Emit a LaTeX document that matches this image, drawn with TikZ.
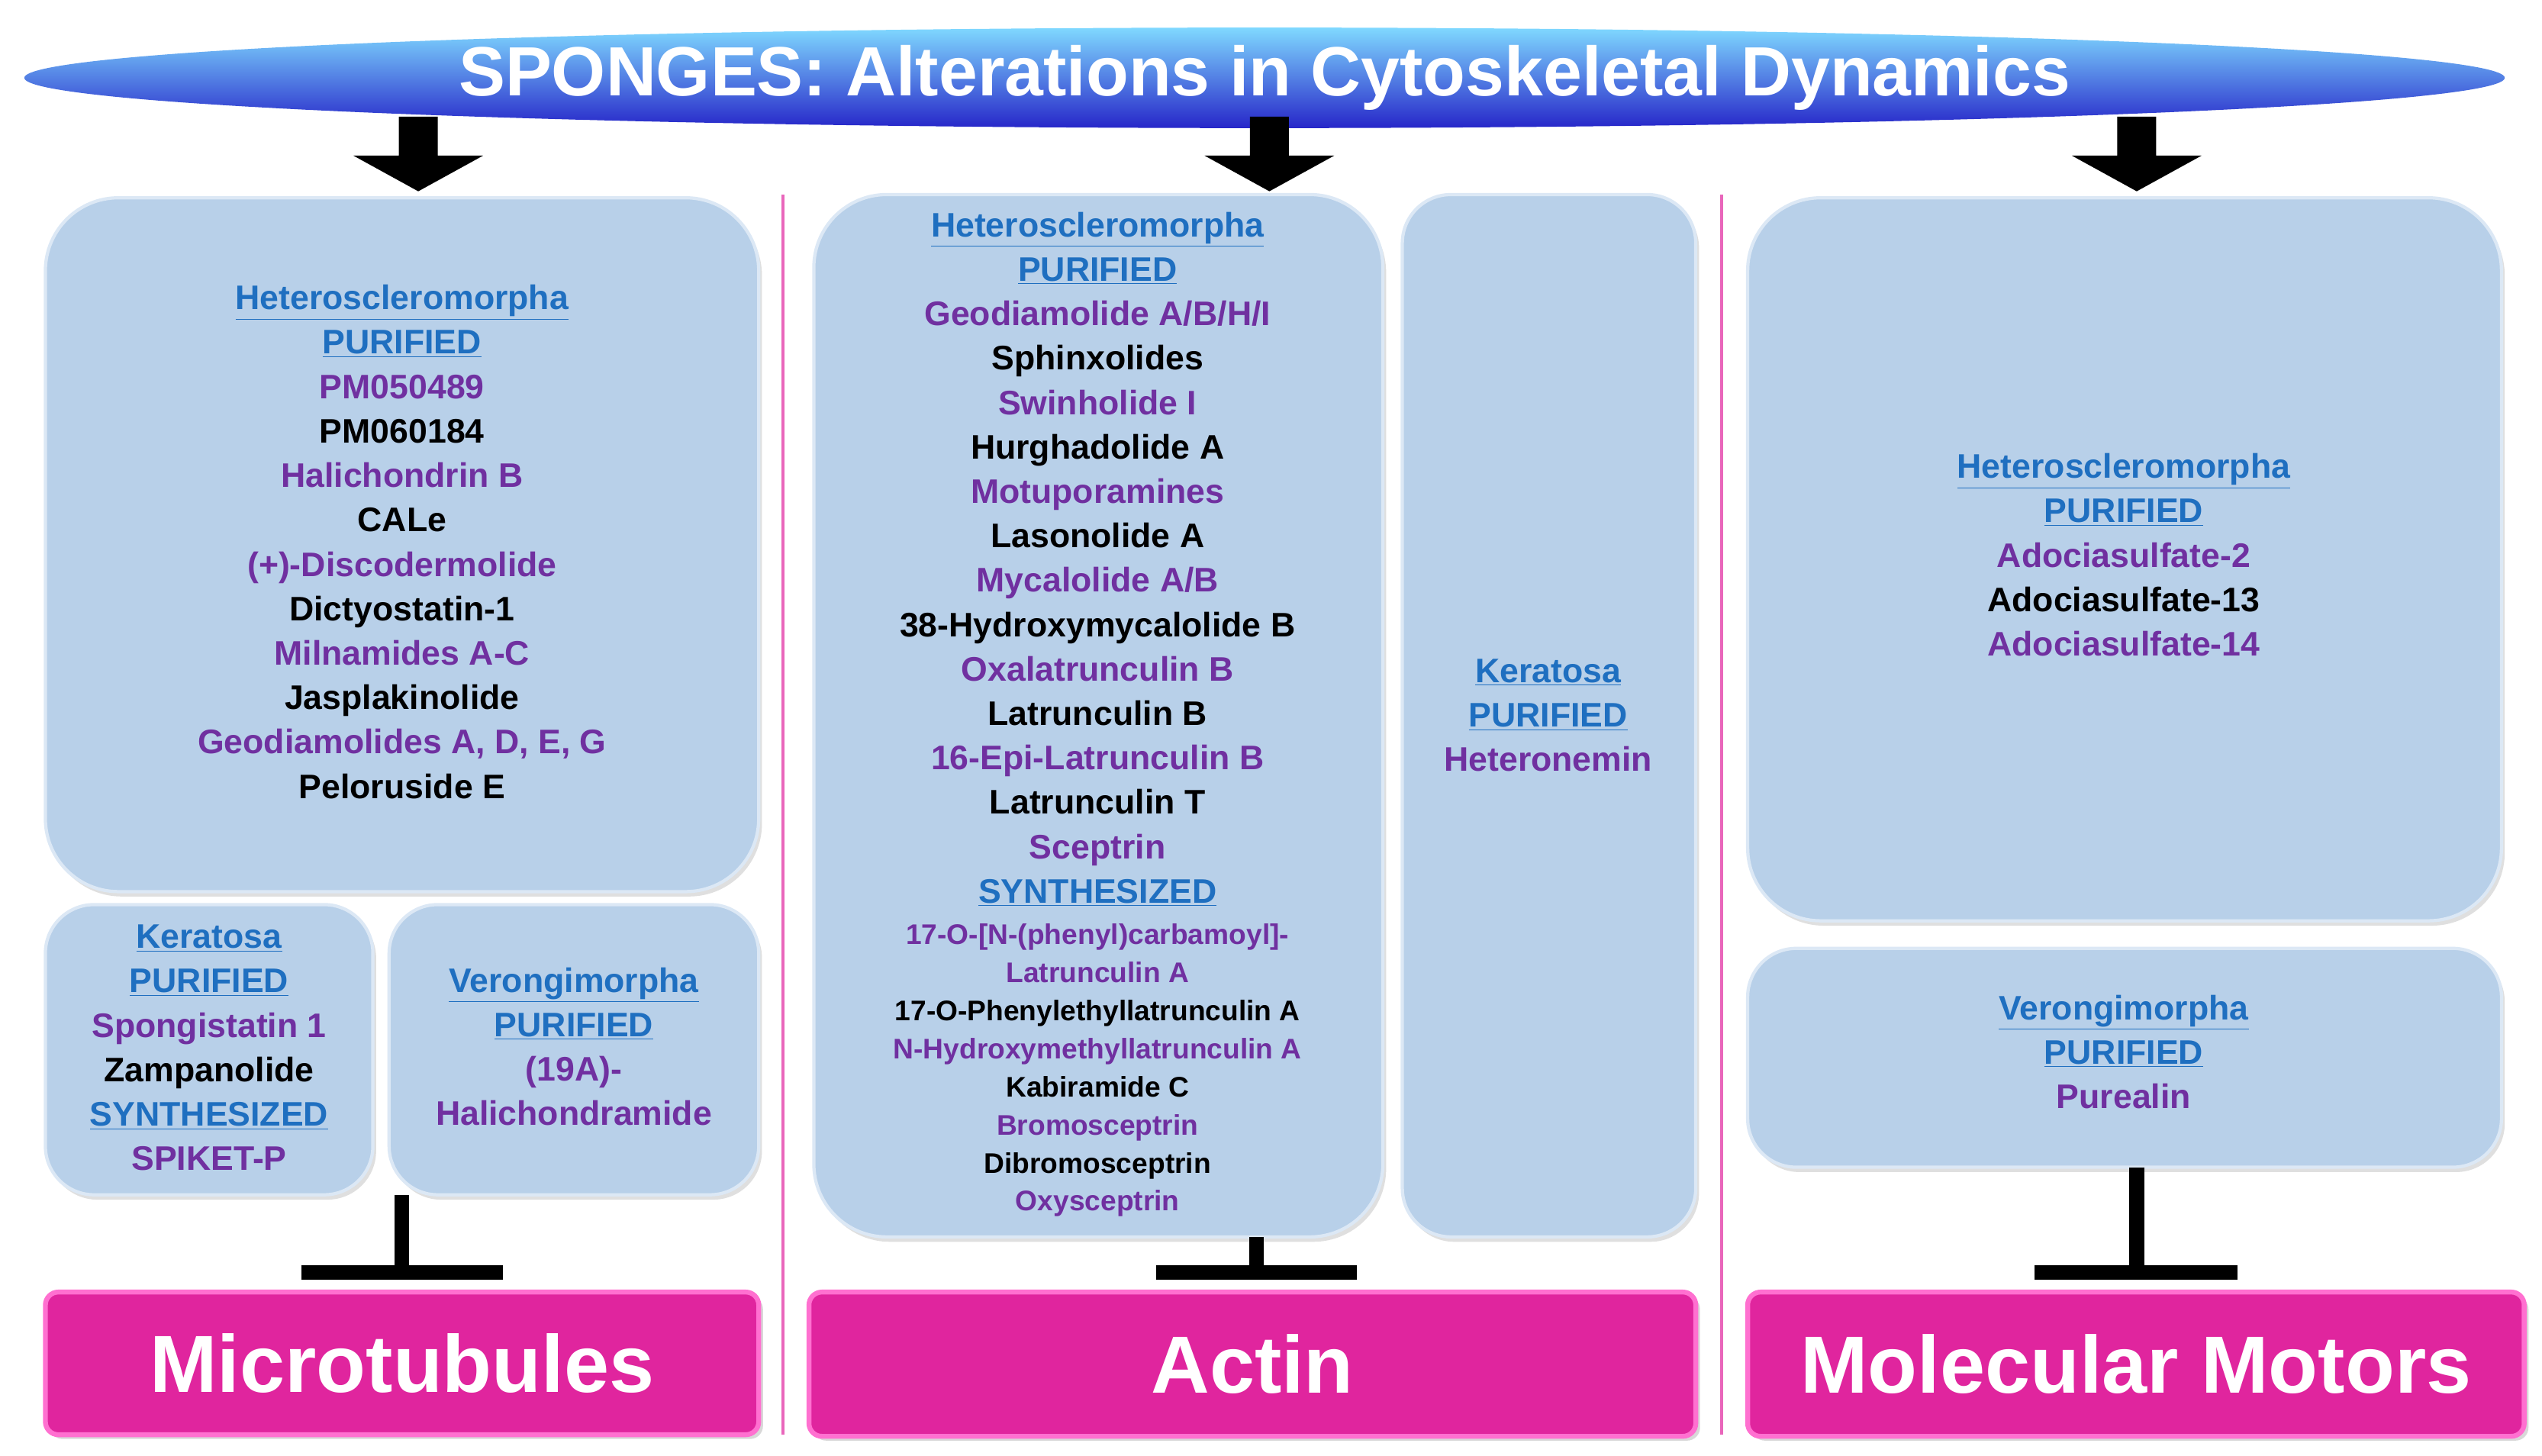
\documentclass[tikz,border=0pt]{standalone}
\usepackage{fontspec}
\setmainfont{Liberation Sans}
\usetikzlibrary{shadows,shapes.geometric}
\definecolor{lk}{HTML}{1F6FC0}
\definecolor{pu}{HTML}{7030A0}
\definecolor{bx}{HTML}{B8D0E9}
\definecolor{bxd}{HTML}{DCE8F5}
\definecolor{mg}{HTML}{E0259E}
\definecolor{mgb}{HTML}{FF70D0}
\begin{document}
\begin{tikzpicture}[x=1pt,y=-1pt,
 box/.style={draw=bxd,line width=2pt,fill=bx,rounded corners=45pt,drop shadow={opacity=0.25,shadow xshift=2pt,shadow yshift=-3pt}},
 sbox/.style={box,rounded corners=30pt},
 mbox/.style={draw=mgb,line width=3pt,fill=mg,rounded corners=8pt,drop shadow={opacity=0.3}},
 mt/.style={font=\fontsize{50}{54}\selectfont\bfseries,text=white},
 base/.style={inner sep=0,text height=15pt,text depth=5pt},
 L/.style={base,font=\fontsize{21}{23}\selectfont\bfseries,text=lk},
 P/.style={base,font=\fontsize{21}{23}\selectfont\bfseries,text=pu},
 K/.style={base,font=\fontsize{21}{23}\selectfont\bfseries,text=black},
 Ps/.style={P,font=\fontsize{17.5}{19}\selectfont\bfseries,text height=13pt,text depth=4pt},
 Ks/.style={K,font=\fontsize{17.5}{19}\selectfont\bfseries,text height=13pt,text depth=4pt},
 inh/.style={line width=9pt,draw=black}]
\useasboundingbox (0,0) rectangle (1568,898);
\fill[white] (0,0) rectangle (1568,898);
% title
\node[draw=none,ellipse,minimum width=1530,minimum height=62,top color=blue!30!cyan!50,bottom color=blue!75!black!85,inner sep=0,font=\fontsize{43}{46}\selectfont\bfseries,text=white] (title) at (780,48) {SPONGES: Alterations in Cytoskeletal Dynamics};
% arrows
\foreach \n/\x in {a1/258,a2/783,a3/1318}{
 \fill (\x-12,72) -- (\x+12,72) -- (\x+12,96) -- (\x+40,96) -- (\x,118) -- (\x-40,96) -- (\x-12,96) -- cycle;
 \coordinate (\n) at (\x,118);}
% separators
\draw[line width=2pt,draw=mg!70] (483,120) -- (483,885);
\draw[line width=2pt,draw=mg!70] (1062,120) -- (1062,885);
% boxes
\node[box,minimum width=440,minimum height=428,inner sep=0] (b1) at (248,336) {};
\node[sbox,minimum width=202,minimum height=179,inner sep=0] (b2) at (129,647.5) {};
\node[sbox,minimum width=228,minimum height=179,inner sep=0] (b3) at (354,647.5) {};
\node[box,minimum width=351,minimum height=643,inner sep=0] (b4) at (677.5,441.5) {};
\node[sbox,minimum width=181,minimum height=643,inner sep=0] (b5) at (955.5,441.5) {};
\node[box,minimum width=465,minimum height=446,inner sep=0] (b6) at (1310.5,345) {};
\node[sbox,minimum width=465,minimum height=135,inner sep=0] (b7) at (1310.5,652.5) {};
% bottom
\node[mbox,minimum width=440,minimum height=88,mt] (m1) at (248,841) {Microtubules};
\node[mbox,minimum width=547,minimum height=89,mt] (m2) at (772.5,841.5) {Actin};
\node[mbox,minimum width=479,minimum height=89,mt] (m3) at (1317.5,841.5) {Molecular Motors};
% inhibition
\coordinate (i1) at (248,785); \coordinate (i2) at (775,785); \coordinate (i3) at (1318,785);
\draw[inh] (248,737) -- (i1); \draw[inh] (186,785) -- (310,785);
\draw[inh] (775,763) -- (i2); \draw[inh] (713,785) -- (837,785);
\draw[inh] (1318,720) -- (i3); \draw[inh] (1255,785) -- (1380,785);
% box1 texts
\foreach \s/\t [count=\i from 0] in {L/\underline{Heteroscleromorpha},L/\underline{PURIFIED},P/PM050489,K/PM060184,P/Halichondrin B,K/CALe,P/(+)-Discodermolide,K/Dictyostatin-1,P/Milnamides A-C,K/Jasplakinolide,P/{Geodiamolides A, D, E, G},K/Peloruside E}
 \node[\s] (t1-\i) at (248,186+27.4*\i) {\t};
\foreach \s/\t [count=\i from 0] in {L/\underline{Keratosa},L/\underline{PURIFIED},P/Spongistatin 1,K/Zampanolide,L/\underline{SYNTHESIZED},P/SPIKET-P}
 \node[\s] (t2-\i) at (129,580+27.4*\i) {\t};
\foreach \s/\t [count=\i from 0] in {L/\underline{Verongimorpha},L/\underline{PURIFIED},P/(19A)-,P/Halichondramide}
 \node[\s] (t3-\i) at (354,607+27.4*\i) {\t};
\foreach \s/\t [count=\i from 0] in {L/\underline{Heteroscleromorpha},L/\underline{PURIFIED},P/{Geodiamolide A/B/H/I},K/Sphinxolides,P/Swinholide I,K/Hurghadolide A,P/Motuporamines,K/Lasonolide A,P/{Mycalolide A/B},K/38-Hydroxymycalolide  B,P/Oxalatrunculin B,K/Latrunculin B,P/16-Epi-Latrunculin B,K/Latrunculin T,P/Sceptrin,L/\underline{SYNTHESIZED}}
 \node[\s] (t4-\i) at (677,141+27.4*\i) {\t};
\foreach \s/\t [count=\i from 0] in {Ps/{17-O-[N-(phenyl)carbamoyl]-},Ps/Latrunculin A,Ks/17-O-Phenylethyllatrunculin  A,Ps/N-Hydroxymethyllatrunculin  A,Ks/Kabiramide  C,Ps/Bromosceptrin,Ks/Dibromosceptrin,Ps/Oxysceptrin}
 \node[\s] (t5-\i) at (677,578+23.5*\i) {\t};
\foreach \s/\t [count=\i from 0] in {L/\underline{Keratosa},L/\underline{PURIFIED},P/Heteronemin}
 \node[\s] (t6-\i) at (955,416+27.4*\i) {\t};
\foreach \s/\t [count=\i from 0] in {L/\underline{Heteroscleromorpha},L/\underline{PURIFIED},P/Adociasulfate-2,K/Adociasulfate-13,P/Adociasulfate-14}
 \node[\s] (t7-\i) at (1310,290+27.4*\i) {\t};
\foreach \s/\t [count=\i from 0] in {L/\underline{Verongimorpha},L/\underline{PURIFIED},P/Purealin}
 \node[\s] (t8-\i) at (1310,624+27.4*\i) {\t};
\end{tikzpicture}
\end{document}
